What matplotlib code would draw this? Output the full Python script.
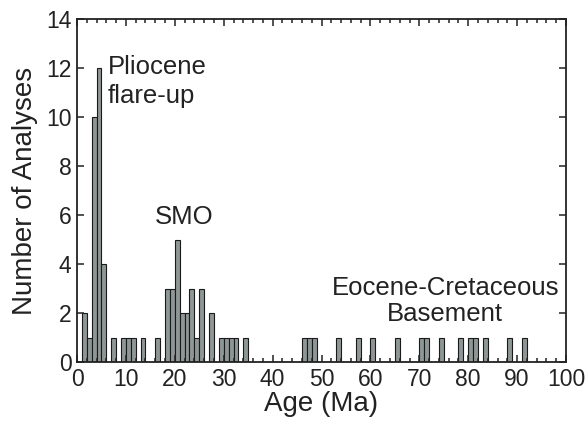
import matplotlib
matplotlib.use("Agg")
import matplotlib.pyplot as plt
from matplotlib.ticker import MultipleLocator

# histogram bins (left edge, Ma) and number of analyses in each 1 Ma bin
bin_left = [1, 2, 3, 4, 5, 7, 9, 10, 11, 13, 16,
            18, 19, 20, 21, 22, 23, 24, 25, 27, 29, 30, 31, 32, 34,
            46, 47, 48, 53, 57, 60, 65, 70, 71, 74, 78, 80, 81, 83, 88, 91]
counts = [2, 1, 10, 12, 4, 1, 1, 1, 1, 1, 1,
          3, 3, 5, 2, 2, 3, 1, 3, 2, 1, 1, 1, 1, 1,
          1, 1, 1, 1, 1, 1, 1, 1, 1, 1, 1, 1, 1, 1, 1, 1]

labels = ["Pliocene\nflare-up", "SMO", "Eocene-Cretaceous\nBasement"]

plt.rcParams['font.family'] = ['Liberation Sans', 'DejaVu Sans']

fig = plt.figure(figsize=(5.88, 4.22), dpi=100)
ax = fig.add_axes([0.131, 0.142, 0.8316, 0.813])

ax.bar(bin_left, counts, width=1, align='edge', color='#8e9696',
       edgecolor='#1a1a1a', linewidth=0.8)

ax.set_xlim(0, 100)
ax.set_ylim(0, 14)
ax.xaxis.set_major_locator(MultipleLocator(10))
ax.xaxis.set_minor_locator(MultipleLocator(2))
ax.yaxis.set_major_locator(MultipleLocator(2))
ax.tick_params(which='both', direction='in', top=True, right=True,
               labelsize=16.5, width=1.1, colors='#222222', labelcolor='#222222')
ax.tick_params(which='major', length=5, pad=4)
ax.tick_params(which='minor', length=3)
for s in ax.spines.values():
    s.set_linewidth(1.3)
    s.set_color('#222222')

ax.set_xlabel('Age (Ma)', fontsize=20, color='#222222', labelpad=0)
ax.set_ylabel('Number of Analyses', fontsize=20, color='#222222', labelpad=6)

ax.text(6.3, 12.55, labels[0], fontsize=18.5, ha='left', va='top',
        color='#222222', linespacing=1.3)
ax.text(22, 5.9, labels[1], fontsize=18.5, ha='center', va='center', color='#222222')
ax.text(75.3, 2.5, labels[2], fontsize=18.5, ha='center', va='center',
        color='#222222', linespacing=1.1)

fig.savefig('out.png', dpi=100)
